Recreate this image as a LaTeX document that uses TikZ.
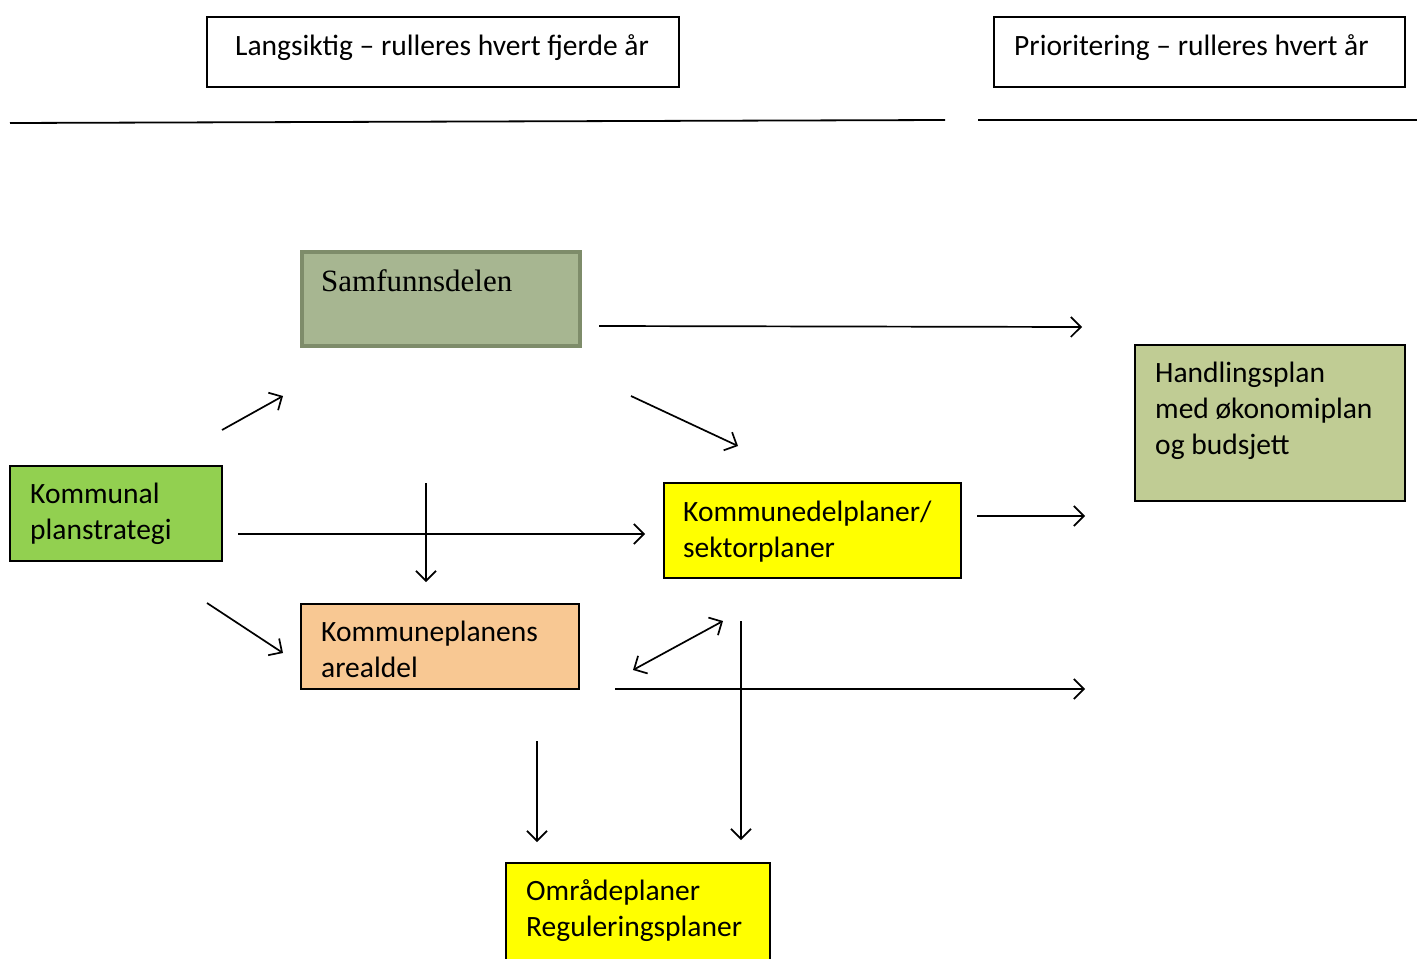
\documentclass[tikz,border=0pt]{standalone}
\usepackage{fontspec}
\setmainfont{Carlito}
\newfontfamily\serifcam{Liberation Serif}
\usetikzlibrary{arrows.meta}
\begin{document}
\begin{tikzpicture}[x=1pt,y=-1pt,
  box/.style={draw=black, line width=1.8pt, anchor=north west, inner sep=0pt},
  txt/.style={anchor=base west, inner sep=0pt, align=left, font=\fontsize{29.5}{36}\selectfont},
  arr/.style={line width=1.7pt, -{Straight Barb[length=10pt,width=20pt,line width=1.7pt]}},
  darr/.style={line width=1.7pt, {Straight Barb[length=10pt,width=20pt,line width=1.7pt]}-{Straight Barb[length=10pt,width=20pt,line width=1.7pt]}},
  rule/.style={line width=1.8pt}]
\definecolor{samf}{HTML}{A7B691}
\definecolor{samfb}{HTML}{7E8C6A}
\definecolor{handl}{HTML}{C0CC94}
\definecolor{kps}{HTML}{92D050}
\definecolor{areal}{HTML}{F8C893}
\definecolor{yel}{HTML}{FFFF00}
\useasboundingbox (0,0) rectangle (1418,958);
% header boxes
\node[box, minimum width=472pt, minimum height=70pt] (h1) at (206,16) {};
\node[txt] (h1t) at (235,56) {Langsiktig – rulleres hvert fjerde år};
\node[box, minimum width=411pt, minimum height=70pt] (h2) at (993,16) {};
\node[txt] (h2t) at (1014,56) {Prioritering – rulleres hvert år};
% rules
\coordinate (r1a) at (10,123); \coordinate (r1b) at (945,120);
\coordinate (r2a) at (978,120); \coordinate (r2b) at (1417,120);
\draw[rule] (r1a) -- (r1b);
\draw[rule] (r2a) -- (r2b);
% Samfunnsdelen
\node[box, draw=samfb, line width=4pt, fill=samf, minimum width=278pt, minimum height=94pt] (samf) at (300,250) {};
\node[txt, font=\serifcam\fontsize{31}{36}\selectfont] (samft) at (321,291) {Samfunnsdelen};
% Handlingsplan
\node[box, fill=handl, minimum width=270pt, minimum height=156pt] (handl) at (1134,344) {};
\node[txt] (handlt) at (1155,454) {Handlingsplan\\med økonomiplan\\og budsjett};
% Kommunal planstrategi
\node[box, fill=kps, minimum width=212pt, minimum height=95pt] (kps) at (9,465) {};
\node[txt] (kpst) at (30,539) {Kommunal\\planstrategi};
% Kommunedelplaner
\node[box, fill=yel, minimum width=297pt, minimum height=95pt] (kdp) at (663,482) {};
\node[txt] (kdpt) at (683,557) {Kommunedelplaner/\\sektorplaner};
% Arealdel
\node[box, fill=areal, minimum width=278pt, minimum height=85pt] (areal) at (300,603) {};
\node[txt] (arealt) at (321,677) {Kommuneplanens\\arealdel};
% Områdeplaner
\node[box, fill=yel, minimum width=264pt, minimum height=110pt] (omr) at (505,862) {};
\node[txt] (omrt) at (526,936) {Områdeplaner\\Reguleringsplaner};
% arrow endpoints
\coordinate (a1s) at (222,430); \coordinate (a1e) at (283,396);
\coordinate (a2s) at (599,326); \coordinate (a2e) at (1082,327);
\coordinate (a3s) at (631,396); \coordinate (a3e) at (738,446);
\coordinate (a4s) at (426,483); \coordinate (a4e) at (426,582);
\coordinate (a5s) at (238,534); \coordinate (a5e) at (645,534);
\coordinate (a6s) at (977,516); \coordinate (a6e) at (1085,516);
\coordinate (a7s) at (207,603); \coordinate (a7e) at (283,653);
\coordinate (a8s) at (633,670); \coordinate (a8e) at (723,621);
\coordinate (a9s) at (741,621); \coordinate (a9e) at (741,840);
\coordinate (a10s) at (615,689); \coordinate (a10e) at (1085,689);
\coordinate (a11s) at (537,741); \coordinate (a11e) at (537,842);
\draw[arr] (a1s) -- (a1e);
\draw[arr] (a2s) -- (a2e);
\draw[arr] (a3s) -- (a3e);
\draw[arr] (a4s) -- (a4e);
\draw[arr] (a5s) -- (a5e);
\draw[arr] (a6s) -- (a6e);
\draw[arr] (a7s) -- (a7e);
\draw[darr] (a8s) -- (a8e);
\draw[arr] (a9s) -- (a9e);
\draw[arr] (a10s) -- (a10e);
\draw[arr] (a11s) -- (a11e);
\end{tikzpicture}
\end{document}
